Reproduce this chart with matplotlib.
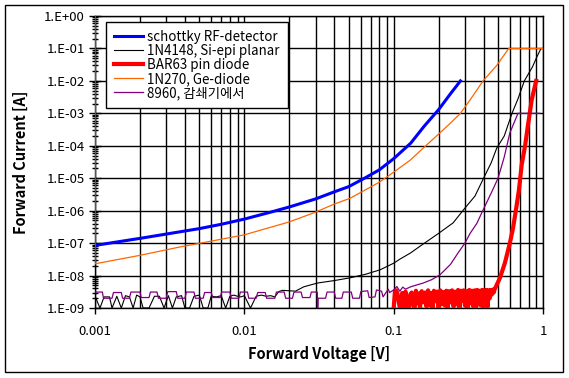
import numpy as np
import matplotlib
matplotlib.use('Agg')
import matplotlib.pyplot as plt
from matplotlib.ticker import FuncFormatter, LogLocator
from matplotlib.patches import Rectangle

plt.rcParams['font.family'] = ['Noto Sans CJK KR', 'DejaVu Sans']

#series labels (legend order)
labels = ['schottky RF-detector', '1N4148, Si-epi planar', 'BAR63 pin diode',
          '1N270, Ge-diode', '8960, 감쇄기에서']

#schottky RF-detector
blue_v = [0.001, 0.002, 0.003, 0.005, 0.007, 0.01, 0.015, 0.02, 0.03, 0.04,
          0.05, 0.065, 0.08, 0.1, 0.13, 0.16, 0.2, 0.24, 0.28]
blue_i = [8.5e-8, 1.4e-7, 1.9e-7, 2.8e-7, 3.8e-7, 5.5e-7, 9e-7, 1.3e-6, 2.3e-6, 3.8e-6,
          5.5e-6, 1.05e-5, 1.8e-5, 4e-5, 1.2e-4, 4e-4, 1.3e-3, 4e-3, 1e-2]

#1N4148 - noise floor (nA) then forward curve
black_noise_v = [0.001, 0.00108, 0.00115, 0.00125, 0.0013, 0.0014, 0.0015, 0.0016, 0.0017, 0.0018,
                 0.0019, 0.002, 0.0021, 0.0023, 0.0025, 0.0027, 0.0029, 0.0031, 0.0033, 0.0035,
                 0.0038, 0.004, 0.0043, 0.0046, 0.005, 0.0053, 0.0057, 0.006, 0.0065, 0.007,
                 0.0075, 0.008, 0.0085, 0.009, 0.0095, 0.01, 0.011, 0.012, 0.013, 0.014,
                 0.015, 0.016, 0.017]
black_noise_na = [2.3, 1.0, 2.2, 2.2, 1.0, 2.3, 1.0, 2.4, 2.2, 1.0,
                  2.5, 2.2, 1.0, 1.0, 2.3, 2.3, 1.0, 2.4, 1.0, 2.2,
                  2.4, 1.0, 1.0, 2.3, 2.5, 1.0, 1.0, 2.3, 2.2, 2.4,
                  1.0, 2.3, 2.5, 2.3, 2.2, 2.4, 1.0, 2.3, 2.5, 2.3,
                  2.4, 2.2, 3.2]
black_v = [0.018, 0.022, 0.025, 0.031, 0.04, 0.051, 0.065, 0.081, 0.1, 0.11,
           0.13, 0.15, 0.2, 0.25, 0.3, 0.35, 0.4, 0.45, 0.49, 0.55,
           0.62, 0.68, 0.75, 0.85, 0.91, 0.97]
black_i = [3.5e-9, 3.3e-9, 4.5e-9, 5.9e-9, 7e-9, 8.5e-9, 1.1e-8, 1.5e-8, 2.4e-8, 3.2e-8,
           5e-8, 8e-8, 2e-7, 4.2e-7, 1.2e-6, 2.8e-6, 1e-5, 3e-5, 8.5e-5, 2e-4,
           1e-3, 2.8e-3, 1e-2, 2.7e-2, 5.5e-2, 1e-1]

#BAR63 pin diode
red_noise_v = [0.1, 0.102, 0.104, 0.106, 0.108, 0.11, 0.112, 0.114, 0.116, 0.118,
               0.12, 0.123, 0.126, 0.129, 0.132, 0.135, 0.138, 0.141, 0.144, 0.147,
               0.15, 0.154, 0.158, 0.162, 0.166, 0.17, 0.174, 0.178, 0.182, 0.186,
               0.19, 0.195, 0.2, 0.205, 0.21, 0.215, 0.22, 0.225, 0.23, 0.235,
               0.24, 0.246, 0.252, 0.258, 0.264, 0.27, 0.276, 0.282, 0.288, 0.294,
               0.3, 0.307, 0.314, 0.321, 0.328, 0.335, 0.342, 0.349, 0.356, 0.363,
               0.37, 0.377, 0.384, 0.391, 0.398, 0.405, 0.412, 0.419, 0.426, 0.433,
               0.44, 0.447, 0.454, 0.461, 0.468, 0.474]
red_noise_na = [1.0, 3.3, 3.5, 2.8, 1.6, 1.0, 1.2, 2.9, 1.0, 1.1,
                3.2, 1.3, 1.0, 2.6, 3.0, 1.2, 1.0, 3.4, 1.4, 2.8,
                1.0, 3.3, 1.5, 3.0, 1.1, 3.5, 1.2, 2.9, 1.0, 3.4,
                1.6, 3.2, 1.0, 3.5, 1.3, 3.1, 1.2, 3.4, 1.0, 3.3,
                1.5, 3.5, 1.1, 3.2, 1.3, 3.6, 1.0, 3.4, 1.7, 3.5,
                1.2, 3.3, 1.0, 3.6, 1.4, 3.4, 1.1, 3.5, 1.0, 3.6,
                1.3, 3.4, 1.2, 3.6, 1.0, 3.5, 1.5, 3.6, 1.1, 3.5,
                2.0, 3.6, 2.6, 3.7, 3.0, 3.8]
red_v = [0.48, 0.515, 0.555, 0.6, 0.63, 0.66, 0.69, 0.72, 0.76, 0.79, 0.84, 0.9]
red_i = [4.2e-9, 8.5e-9, 2.4e-8, 1e-7, 2.9e-7, 1.1e-6, 4.3e-6, 2.6e-5, 1.06e-4, 3.8e-4, 2.6e-3, 1e-2]

#1N270 Ge-diode
orange_v = [0.001, 0.001, 0.002, 0.0037, 0.0066, 0.01, 0.02, 0.03, 0.04, 0.051,
            0.08, 0.095, 0.129, 0.16, 0.204, 0.24, 0.28, 0.325, 0.397, 0.49,
            0.59, 0.8, 1.0]
orange_i = [1.0, 2.3e-8, 4.2e-8, 7.6e-8, 1.25e-7, 1.8e-7, 4.5e-7, 9e-7, 1.6e-6, 2.4e-6,
            7.5e-6, 1.3e-5, 3.6e-5, 9e-5, 2.5e-4, 5e-4, 1e-3, 2.6e-3, 1e-2, 3e-2,
            0.1, 0.1, 0.1]

#8960 attenuator
purple_noise_v = [0.001, 0.00112, 0.00114, 0.0013, 0.00133, 0.0015, 0.00153, 0.0017, 0.00174, 0.002,
                  0.00204, 0.0023, 0.00235, 0.0026, 0.00266, 0.003, 0.00307, 0.0035, 0.00358, 0.004,
                  0.00409, 0.0046, 0.0047, 0.0053, 0.00542, 0.006, 0.00614, 0.0069, 0.00705, 0.008,
                  0.00818, 0.0092, 0.0094, 0.0105, 0.0107, 0.012, 0.0123, 0.0138, 0.0141, 0.016,
                  0.0164, 0.0185, 0.0189, 0.021, 0.0215, 0.024, 0.0245, 0.0275, 0.0281, 0.0308,
                  0.031, 0.0312, 0.0314, 0.035, 0.0358, 0.04, 0.0409, 0.045, 0.046, 0.052,
                  0.0532, 0.059, 0.0603, 0.067, 0.0685, 0.075, 0.0767, 0.083, 0.0849, 0.092,
                  0.094, 0.1]
purple_noise_na = [3.1, 3.1, 2.0, 2.0, 3.0, 3.0, 2.0, 2.0, 3.1, 3.1,
                   2.1, 2.1, 3.1, 3.1, 2.0, 2.0, 3.2, 3.2, 2.0, 2.0,
                   3.1, 3.1, 2.0, 2.0, 3.0, 3.0, 2.1, 2.1, 3.1, 3.1,
                   2.0, 2.0, 3.1, 3.1, 2.0, 2.0, 3.0, 3.0, 2.0, 2.0,
                   3.1, 3.1, 2.0, 2.0, 3.1, 3.1, 2.1, 2.1, 3.1, 3.1,
                   1.0, 2.0, 2.0, 2.0, 3.1, 3.1, 2.0, 2.0, 3.1, 3.1,
                   2.0, 2.0, 3.2, 3.4, 2.1, 2.2, 3.6, 3.3, 2.2, 3.8,
                   3.0, 3.6]
purple_v = [0.105, 0.11, 0.115, 0.12, 0.13, 0.14, 0.158, 0.18, 0.204, 0.24,
            0.27, 0.3, 0.325, 0.36, 0.397, 0.45, 0.5, 0.55, 0.6, 0.68, 0.95]
purple_i = [4.6e-9, 3.3e-9, 4.4e-9, 3.8e-9, 4.5e-9, 5.0e-9, 5.9e-9, 7.5e-9, 1.05e-8, 2.2e-8,
            5e-8, 1e-7, 2e-7, 4e-7, 1.05e-6, 3.5e-6, 1e-5, 4.5e-5, 2.5e-4, 1e-3, 1e-3]

#join noise floor (in nA) and forward curve
def join(nv, nna, v, i):
    return list(nv) + list(v), [x*1e-9 for x in nna] + list(i)

bk_v, bk_i = join(black_noise_v, black_noise_na, black_v, black_i)
rd_v, rd_i = join(red_noise_v, red_noise_na, red_v, red_i)
pu_v, pu_i = join(purple_noise_v, purple_noise_na, purple_v, purple_i)

fig = plt.figure(figsize=(5.69, 3.78), dpi=100)
fig.patches.append(Rectangle((5/569, 1-372/378), 558/569, 367/378, transform=fig.transFigure,
                             fill=False, edgecolor='black', linewidth=1.0))
ax = fig.add_axes([95/569, 1-308/378, 448/569, 292/378])

ax.plot(blue_v, blue_i, color='#0000FF', lw=2.2, label=labels[0], zorder=3)
ax.plot(bk_v, bk_i, color='black', lw=0.8, label=labels[1], zorder=3)
ax.plot(rd_v, rd_i, color='#FF0000', lw=3.0, label=labels[2], zorder=3)
ax.plot(orange_v, orange_i, color='#FF6600', lw=0.9, label=labels[3], zorder=3)
ax.plot(pu_v, pu_i, color='#800080', lw=0.9, label=labels[4], zorder=3)

ax.set_xscale('log')
ax.set_yscale('log')
ax.set_xlim(0.001, 1)
ax.set_ylim(1e-9, 1)

ax.xaxis.set_major_locator(LogLocator(base=10, numticks=10))
ax.xaxis.set_minor_locator(LogLocator(base=10, subs=np.arange(2, 10), numticks=10))
ax.yaxis.set_major_locator(LogLocator(base=10, numticks=12))
ax.yaxis.set_minor_locator(LogLocator(base=10, subs=np.arange(2, 10), numticks=12))
ax.xaxis.set_major_formatter(FuncFormatter(lambda v, p: '{:g}'.format(v)))
ax.yaxis.set_major_formatter(FuncFormatter(lambda v, p: '1.E{:+03d}'.format(int(round(np.log10(v))))))
ax.xaxis.set_minor_formatter(FuncFormatter(lambda v, p: ''))
ax.yaxis.set_minor_formatter(FuncFormatter(lambda v, p: ''))

ax.grid(which='major', axis='both', color='black', lw=1.0)
ax.grid(which='minor', axis='x', color='black', lw=1.0)
ax.tick_params(axis='x', which='major', direction='out', length=4, width=1, pad=8, labelsize=9.5)
ax.tick_params(axis='x', which='minor', length=0)
ax.tick_params(axis='y', which='major', direction='inout', length=9, width=1, pad=3, labelsize=9.5)
ax.tick_params(axis='y', which='minor', direction='inout', length=5, width=1)
for s in ax.spines.values():
    s.set_linewidth(1.0)

ax.set_xlabel('Forward Voltage [V]', fontsize=10.5, fontweight='bold', labelpad=6)
ax.set_ylabel('Forward Current [A]', fontsize=10.5, fontweight='bold', labelpad=11)

leg = ax.legend(loc='upper left', bbox_to_anchor=(0.0246, 0.979), borderaxespad=0,
                fontsize=9.6, fancybox=False, edgecolor='black', framealpha=1,
                handlelength=2.2, handletextpad=0.3, labelspacing=0.0, borderpad=0.6)
leg.get_frame().set_linewidth(1.0)

plt.savefig('out.png', dpi=100)
